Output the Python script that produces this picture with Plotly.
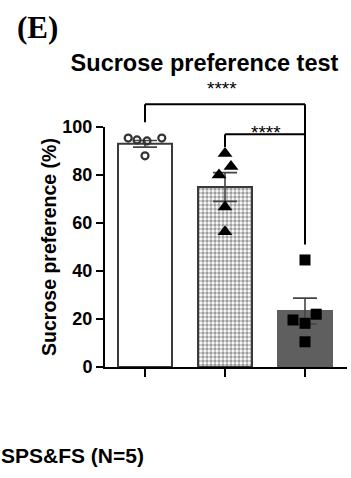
import plotly.graph_objects as go

# ---- data ----
groups = ["Control", "SPS", "SPS&FS"]
means = [93.0, 75.0, 23.3]
sems = [1.4, 6.0, 5.4]
pts_control = [95.4, 94.6, 94.2, 95.4, 88.0]
pts_sps = [89.0, 83.5, 80.0, 66.7, 56.4]
pts_spsfs = [44.6, 22.0, 19.6, 18.2, 10.5]
jit_control = [-0.21, -0.10, 0.025, 0.21, 0.0]
jit_sps = [0.0, 0.075, -0.075, 0.0, 0.0]
jit_spsfs = [0.0, 0.14, -0.15, 0.0, 0.0]
sig_labels = ["****", "****"]

FONT = "Liberation Sans, Arial, sans-serif"
YMIN, YMAX = 0, 100

def yp(v):
    return (v - YMIN) / (YMAX - YMIN)

fig = go.Figure()
# plain bars (control, SPS&FS)
fig.add_trace(go.Bar(
    x=[0, 2], y=[means[0], means[2]], width=0.675,
    marker=dict(color=["white", "#5f5f5f"],
                line=dict(color=["#3a3a3a", "#5f5f5f"], width=2)),
    error_y=dict(type="data", array=[sems[0], sems[2]], color="#444444", thickness=1.6, width=12),
    showlegend=False,
))
# patterned bar (SPS)
fig.add_trace(go.Bar(
    x=[1], y=[means[1]], width=0.675,
    marker=dict(color="white", line=dict(color="#3a3a3a", width=2),
                pattern=dict(shape=".", size=4, solidity=0.55, fgcolor="#3c3c3c",
                             bgcolor="white", fillmode="overlay")),
    error_y=dict(type="data", array=[sems[1]], color="#444444", thickness=1.6, width=12),
    showlegend=False,
))

def pts(idx, vals, jit, symbol, size, lw):
    open_ = "open" in symbol
    fig.add_trace(go.Scatter(
        x=[idx + j for j in jit], y=vals, mode="markers", cliponaxis=False,
        marker=dict(symbol=symbol, size=size, color="#333333" if open_ else "black",
                    line=dict(width=lw, color="#333333" if open_ else "black")),
        showlegend=False,
    ))

pts(0, pts_control, jit_control, "circle-open", 7, 2.2)
pts(1, pts_sps, jit_sps, "triangle-up", 13, 0)
pts(2, pts_spsfs, jit_spsfs, "square", 11, 0)

# significance brackets
line = dict(color="black", width=2)
top1, leg1a, leg1b = 109.5, 102.0, 51.0
top2, leg2a = 97.0, 91.7
fig.add_shape(type="line", xref="x", yref="paper", x0=0, x1=2, y0=yp(top1), y1=yp(top1), line=line)
fig.add_shape(type="line", xref="x", yref="paper", x0=0, x1=0, y0=yp(top1), y1=yp(leg1a), line=line)
fig.add_shape(type="line", xref="x", yref="paper", x0=2, x1=2, y0=yp(top1), y1=yp(leg1b), line=line)
fig.add_shape(type="line", xref="x", yref="paper", x0=1, x1=2, y0=yp(top2), y1=yp(top2), line=line)
fig.add_shape(type="line", xref="x", yref="paper", x0=1, x1=1, y0=yp(top2), y1=yp(leg2a), line=line)

fig.add_annotation(x=0.9625, y=yp(110.8), xref="x", yref="paper", text=sig_labels[0],
                   showarrow=False, yanchor="bottom", font=dict(family=FONT, size=19, color="black"))
fig.add_annotation(x=1.51, y=yp(92.7), xref="x", yref="paper", text=sig_labels[1],
                   showarrow=False, yanchor="bottom", font=dict(family=FONT, size=19, color="black"))

# panel label and bottom legend text
fig.add_annotation(x=(15 - 105) / 242, y=(367 - 28) / 240, xref="paper", yref="paper", text="<b>(E)</b>",
                   showarrow=False, xanchor="left", yanchor="middle",
                   font=dict(family="Liberation Serif, Times New Roman, serif", size=31, color="black"))
fig.add_annotation(x=(146 - 105) / 242, y=(367 - 455) / 240, xref="paper", yref="paper",
                   text="<b>SPS&amp;FS (N=5)</b>", showarrow=False, xanchor="right", yanchor="middle",
                   font=dict(family=FONT, size=21, color="black"))

fig.update_layout(
    width=351, height=478,
    margin=dict(l=105, r=4, t=127, b=111),
    paper_bgcolor="white", plot_bgcolor="white",
    barmode="overlay",
    title=dict(text="<b>Sucrose preference test</b>", x=204.5 / 351, xanchor="center",
               y=1 - 63 / 478, yanchor="middle", yref="container",
               font=dict(family=FONT, size=23.5, color="black")),
    xaxis=dict(range=[-0.5, 2.525], showline=True, linewidth=2, linecolor="black",
               ticks="outside", ticklen=8, tickwidth=2, tickcolor="black",
               tickvals=[0, 1, 2], showticklabels=False, showgrid=False, zeroline=False, fixedrange=True),
    yaxis=dict(range=[YMIN, YMAX], showline=True, linewidth=2, linecolor="black",
               ticks="outside", ticklen=7, tickwidth=2, tickcolor="black",
               tickvals=[0, 20, 40, 60, 80, 100], showgrid=False, zeroline=False,
               tickfont=dict(family=FONT, size=18, color="black", weight="bold"),
               title=dict(text="<b>Sucrose preference (%)</b>", standoff=1,
                          font=dict(family=FONT, size=19.5, color="black"))),
)

fig.write_html("out.html")
